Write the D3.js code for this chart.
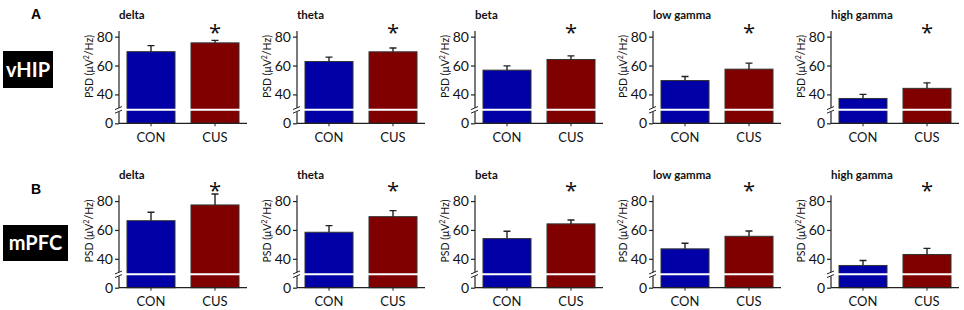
<!DOCTYPE html>
<html>
<head>
<meta charset="utf-8">
<script src="https://cdn.jsdelivr.net/npm/d3@7/dist/d3.min.js"></script>
<style>
  body { margin: 0; background: #fff; }
  svg { display: block; font-family: Lato, "Open Sans", sans-serif; }
</style>
</head>
<body>
<svg id="chart" width="964" height="310"></svg>
<script>
// Chart data
const bands = ['delta', 'theta', 'beta', 'low gamma', 'high gamma'];
const groups = ['CON', 'CUS'];
const regions = ['vHIP', 'mPFC'];
const panelLetters = ['A', 'B'];

// PSD means and SEM (µV²/Hz), one entry per band
const vhipCon    = [69.6, 62.8, 56.8, 49.6, 37.2];
const vhipConErr = [4.2, 3.0, 3.0, 2.8, 2.8];
const vhipCus    = [75.7, 69.5, 64.2, 57.5, 44.2];
const vhipCusErr = [1.7, 2.6, 2.5, 4.2, 3.8];
const mpfcCon    = [66.4, 58.4, 54.0, 46.9, 35.4];
const mpfcConErr = [5.8, 4.6, 5.1, 3.9, 3.4];
const mpfcCus    = [77.3, 69.2, 64.2, 55.6, 43.0];
const mpfcCusErr = [7.6, 4.2, 2.7, 3.7, 4.2];

// broken y axis: the floor of the axis is labelled "0"
const yTickValues = [20, 40, 60, 80];
const yTickLabels = ['0', '40', '60', '80'];
const axisFloor = 20;
const axisBreak = 29.3;
const significant = ['CUS'];

const colors = { CON: '#0000a6', CUS: '#800000' };

// Layout
const svg = d3.select('#chart');
const panelStep = 178;
const firstAxisX = 119;
const panelWidth = 128;
const rows = [
  { means: [vhipCon, vhipCus], errs: [vhipConErr, vhipCusErr], bottom: 123.3, titleY: 18.5, starY: 40, letterY: 19, box: [3, 51, 50, 37] },
  { means: [mpfcCon, mpfcCus], errs: [mpfcConErr, mpfcCusErr], bottom: 287.7, titleY: 179, starY: 198, letterY: 194, box: [3, 225, 65, 36] }
];
const pxPerUnit = 1.444;

rows.forEach((row, r) => {
  // region tag
  svg.append('rect')
    .attr('x', row.box[0]).attr('y', row.box[1])
    .attr('width', row.box[2]).attr('height', row.box[3])
    .attr('fill', '#000');
  svg.append('text')
    .attr('x', row.box[0] + row.box[2] / 2)
    .attr('y', row.box[1] + row.box[3] / 2 + 7)
    .attr('text-anchor', 'middle')
    .attr('fill', '#fff')
    .attr('font-weight', 'bold')
    .attr('font-size', 20)
    .text(regions[r]);

  svg.append('text')
    .attr('x', 36).attr('y', row.letterY)
    .attr('text-anchor', 'middle')
    .attr('font-family', '"Liberation Sans", Arial, sans-serif')
    .attr('font-weight', 'bold')
    .attr('font-size', 14)
    .text(panelLetters[r]);

  const y = d3.scaleLinear()
    .domain([axisFloor, 80])
    .range([row.bottom, row.bottom - 60 * pxPerUnit]);

  bands.forEach((band, i) => {
    const x0 = firstAxisX + panelStep * i;
    const x = d3.scaleBand()
      .domain(groups)
      .range([x0, x0 + panelWidth])
      .paddingInner(0.25)
      .paddingOuter(0.125);

    const g = svg.append('g');

    const data = groups.map((grp, k) => ({ grp, mean: row.means[k][i], err: row.errs[k][i] }));

    // bars
    g.selectAll('rect.bar')
      .data(data)
      .join('rect')
      .attr('class', 'bar')
      .attr('x', d => x(d.grp))
      .attr('width', x.bandwidth())
      .attr('y', d => y(d.mean))
      .attr('height', d => y(axisFloor) - y(d.mean))
      .attr('fill', d => colors[d.grp])
      .attr('stroke', '#333')
      .attr('stroke-width', 1);

    // error bars (upper only)
    const capHalf = 3.5;
    g.selectAll('path.err')
      .data(data)
      .join('path')
      .attr('class', 'err')
      .attr('d', d => {
        const cx = x(d.grp) + x.bandwidth() / 2;
        return `M${cx},${y(d.mean)}V${y(d.mean + d.err)}M${cx - capHalf},${y(d.mean + d.err)}H${cx + capHalf}`;
      })
      .attr('fill', 'none')
      .attr('stroke', '#222')
      .attr('stroke-width', 1.4);

    // white break line through the bars
    g.append('line')
      .attr('x1', x0 + 1).attr('x2', x0 + panelWidth)
      .attr('y1', y(axisBreak)).attr('y2', y(axisBreak))
      .attr('stroke', '#fff')
      .attr('stroke-width', 2);

    // y axis
    const yAxis = d3.axisLeft(y)
      .tickValues(yTickValues)
      .tickFormat((d, j) => yTickLabels[j])
      .tickSize(4)
      .tickSizeOuter(0);
    const ya = g.append('g')
      .attr('transform', `translate(${x0},0)`)
      .call(yAxis);
    ya.select('.domain').remove();
    ya.append('line')
      .attr('x1', 0).attr('x2', 0)
      .attr('y1', y(axisFloor)).attr('y2', y(84))
      .attr('stroke', '#222').attr('stroke-width', 1.2);
    ya.selectAll('.tick line').attr('stroke', '#222').attr('stroke-width', 1.2);
    ya.selectAll('.tick text')
      .attr('x', -6)
      .attr('fill', '#111')
      .attr('font-size', 14)
      .attr('font-family', 'Lato, sans-serif');

    // break marks on the y axis
    const yb = y(axisBreak);
    ya.append('rect')
      .attr('x', -2).attr('y', yb - 2)
      .attr('width', 4).attr('height', 4)
      .attr('fill', '#fff');
    [-1.8, 1.8].forEach(dy => {
      ya.append('line')
        .attr('x1', -4).attr('x2', 3)
        .attr('y1', yb + dy + 1.5).attr('y2', yb + dy - 1.5)
        .attr('stroke', '#222').attr('stroke-width', 1);
    });

    // x axis
    const xAxis = d3.axisBottom(x).tickSize(3).tickSizeOuter(0);
    const xa = g.append('g')
      .attr('transform', `translate(0,${y(axisFloor)})`)
      .call(xAxis);
    xa.select('.domain')
      .attr('d', `M${x0},0H${x0 + panelWidth}`)
      .attr('stroke', '#222').attr('stroke-width', 1.2);
    xa.selectAll('.tick line').attr('stroke', '#222');
    xa.selectAll('.tick text')
      .attr('y', 18.5)
      .attr('dy', null)
      .attr('fill', '#111')
      .attr('font-size', 13)
      .attr('font-family', 'Lato, sans-serif');

    // y axis title
    const yl = g.append('text')
      .attr('transform', `translate(${x0 - 26},${y(60) + 1}) rotate(-90)`)
      .attr('text-anchor', 'middle')
      .attr('font-size', 10.5)
      .attr('fill', '#111');
    yl.append('tspan').text('PSD (\u03bcV');
    yl.append('tspan').attr('font-size', 7).attr('dy', -4).text('2');
    yl.append('tspan').attr('dy', 4).text('/Hz)');

    // band title
    g.append('text')
      .attr('x', x0)
      .attr('y', row.titleY)
      .attr('font-size', 11.5)
      .attr('font-weight', 'bold')
      .attr('fill', '#111')
      .text(band);

    // significance star
    g.selectAll('text.star')
      .data(significant)
      .join('text')
      .attr('class', 'star')
      .attr('x', d => x(d) + x.bandwidth() / 2)
      .attr('y', row.starY)
      .attr('text-anchor', 'middle')
      .attr('font-family', '"Open Sans", sans-serif')
      .attr('font-size', 22)
      .attr('fill', '#111')
      .text('*');
  });
});
</script>
</body>
</html>
